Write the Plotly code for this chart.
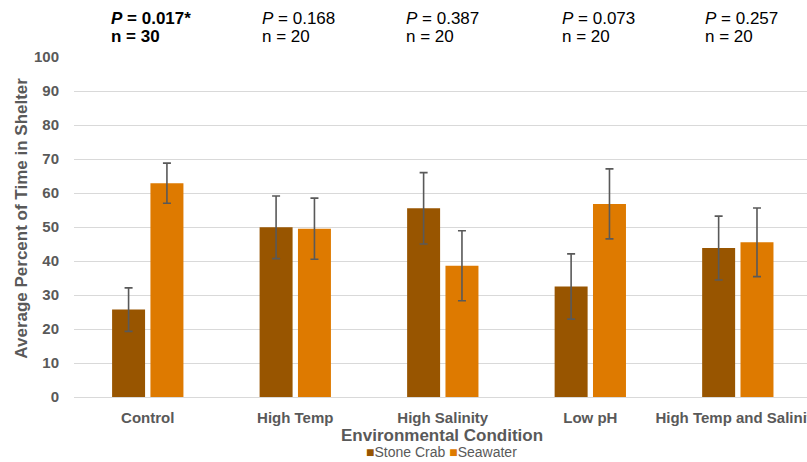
import plotly.graph_objects as go

categories = ["Control", "High Temp", "High Salinity", "Low pH", "High Temp and Salinity"]
stone_crab = [25.7, 49.9, 55.5, 32.5, 43.8]
stone_crab_err = [6.4, 9.2, 10.5, 9.6, 9.4]
seawater = [62.9, 49.5, 38.6, 56.8, 45.5]
seawater_err = [5.9, 9.0, 10.3, 10.3, 10.1]
p_values = ["0.017*", "0.168", "0.387", "0.073", "0.257"]
n_values = [30, 20, 20, 20, 20]
significant = [True, False, False, False, False]

FONT = "Liberation Sans, Arial, sans-serif"
GRAY = "#595959"
BROWN = "#985500"
ORANGE = "#DE7A00"

fig = go.Figure()
fig.add_trace(go.Bar(
    name="Stone Crab", x=list(range(len(categories))), y=stone_crab,
    marker=dict(color=BROWN, line=dict(width=0)),
    error_y=dict(type="data", array=stone_crab_err, color=GRAY, thickness=1.6, width=4),
))
fig.add_trace(go.Bar(
    name="Seawater", x=list(range(len(categories))), y=seawater,
    marker=dict(color=ORANGE, line=dict(width=0)),
    error_y=dict(type="data", array=seawater_err, color=GRAY, thickness=1.6, width=4),
))

annotations = []
p_shift = [-39, -35.5, -39, -30, -34.5]
for i, (p, n, sig) in enumerate(zip(p_values, n_values, significant)):
    l1 = f"<i>P</i> = {p}"
    l2 = f"n = {n}"
    if sig:
        l1 = f"<b>{l1}</b>"
        l2 = f"<b>{l2}</b>"
    for txt, yy in ((l1, 1.1118), (l2, 1.0603)):
        annotations.append(dict(
            text=txt, x=i, xref="x", xshift=p_shift[i], xanchor="left",
            y=yy, yref="paper", yanchor="middle", showarrow=False,
            font=dict(family=FONT, size=17, color="#000000"),
        ))

annotations.append(dict(
    text="<b>Average Percent of Time in Shelter</b>", textangle=-90,
    x=-0.0716, xref="paper", y=0.526, yref="paper", showarrow=False,
    xanchor="center", yanchor="middle",
    font=dict(family=FONT, size=17, color=GRAY),
))
annotations.append(dict(
    text="<b>Environmental Condition</b>",
    x=0.5014, xref="paper", y=-0.1147, yref="paper", showarrow=False,
    xanchor="center", yanchor="middle",
    font=dict(family=FONT, size=17, color=GRAY),
))
annotations.append(dict(
    text=f'<span style="color:{BROWN}">■</span>Stone Crab <span style="color:{ORANGE}">■</span>Seawater',
    x=0.5014, xref="paper", y=-0.162, yref="paper", showarrow=False,
    xanchor="center", yanchor="middle",
    font=dict(family=FONT, size=14, color=GRAY),
))

fig.update_layout(
    width=807, height=462,
    margin=dict(l=74, r=0, t=57, b=65, autoexpand=False),
    paper_bgcolor="white", plot_bgcolor="white",
    barmode="group", bargap=0.48, bargroupgap=0.14,
    showlegend=False,
    annotations=annotations,
    font=dict(family=FONT, color=GRAY),
)
fig.update_xaxes(
    range=[-0.5, 4.469], tickmode="array",
    tickvals=list(range(len(categories))), ticktext=[f"<b>{c}</b>" for c in categories],
    tickfont=dict(family=FONT, size=15, color=GRAY),
    showgrid=False, showline=False, zeroline=False, ticks="", ticklabelstandoff=10,
    ticklabeloverflow="allow",
)
fig.update_yaxes(
    range=[0, 100], dtick=10, tick0=0,
    tickfont=dict(family=FONT, size=15, color=GRAY), tickprefix="<b>", ticksuffix="</b>",
    showgrid=True, gridcolor="#D9D9D9", gridwidth=1.3,
    zeroline=True, zerolinecolor="#D9D9D9", zerolinewidth=1.3,
    showline=False, ticks="", ticklabelstandoff=14,
)

fig.write_html(
    "out.html",
    config={"displayModeBar": False},
    post_script="document.body.style.margin='0px';document.body.style.overflow='hidden';",
)
